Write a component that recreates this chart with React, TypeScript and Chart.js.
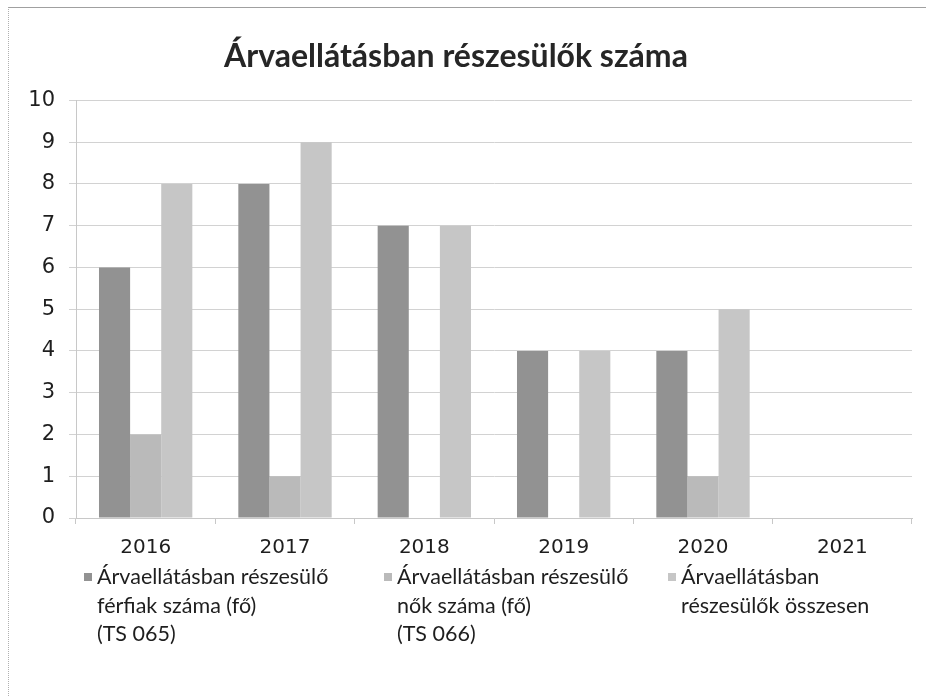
import React, { useEffect, useRef } from "react";
import { Chart, registerables } from "chart.js";

Chart.register(...registerables);

const categories = ["2016", "2017", "2018", "2019", "2020", "2021"];
const ferfiak = [6, 8, 7, 4, 4, null];
const nok = [2, 1, 0, 0, 1, null];
const osszesen = [8, 9, 7, 4, 5, null];
const seriesNames = [
  ["Árvaellátásban részesülő", "férfiak száma (fő)", "(TS 065)"],
  ["Árvaellátásban részesülő", "nők száma (fő)", "(TS 066)"],
  ["Árvaellátásban", "részesülők összesen"],
];
const colors = ["#929292", "#bababa", "#c6c6c6"];
const titleText = "Árvaellátásban részesülők száma";

export default function App() {
  const ref = useRef<HTMLCanvasElement | null>(null);
  useEffect(() => {
    if (!ref.current) return;
    const chart = new Chart(ref.current, {
      type: "bar",
      data: {
        labels: categories,
        datasets: [ferfiak, nok, osszesen].map((d, i) => ({
          label: seriesNames[i].join(" "),
          data: d,
          backgroundColor: colors[i],
          borderWidth: 0,
          barPercentage: 1,
          categoryPercentage: 0.67,
        })),
      },
      options: {
        animation: false,
        responsive: false,
        layout: { padding: { left: 0, right: 14, top: 23, bottom: 124 } },
        plugins: {
          legend: { display: false },
          tooltip: { enabled: false },
          title: {
            display: true,
            text: titleText,
            color: "#262626",
            font: { family: "Lato", size: 32, weight: "bold" },
            padding: { top: 14, bottom: 25 },
          },
        },
        scales: {
          x: {
            grid: {
              display: true,
              drawOnChartArea: false,
              tickLength: 6,
              color: "#c8c8c8",
              offset: true,
            },
            border: { color: "#c8c8c8" },
            ticks: {
              color: "#1e1e1e",
              font: { family: "DejaVu Sans", size: 20 },
              padding: 12,
            },
          },
          y: {
            min: 0,
            max: 10,
            ticks: {
              stepSize: 1,
              color: "#1e1e1e",
              font: { family: "DejaVu Sans", size: 21 },
              padding: 14,
            },
            grid: { color: "#d2d2d2", tickLength: 7 },
            border: { color: "#c8c8c8" },
            afterFit: (s: any) => {
              s.width = 76;
            },
          },
        },
      },
    });
    return () => chart.destroy();
  }, []);

  const legendX = [84, 384, 668];
  return (
    <div
      style={{
        position: "fixed",
        left: 0,
        top: 0,
        width: 926,
        height: 696,
        background: "#ffffff",
        overflow: "hidden",
      }}
    >
      <div
        style={{
          position: "absolute",
          left: 8,
          top: 7,
          width: 918,
          height: 689,
          borderTop: "1px solid #a0a0a0",
          borderLeft: "1px dotted #b0b0b0",
          boxSizing: "border-box",
        }}
      />
      <canvas ref={ref} width={926} height={696} style={{ position: "absolute", left: 0, top: 0 }} />
      {seriesNames.map((lines, i) => (
        <div
          key={i}
          style={{
            position: "absolute",
            left: legendX[i],
            top: 562,
            display: "flex",
            alignItems: "flex-start",
            fontFamily: "Lato",
            fontSize: 21.5,
            lineHeight: "28.5px",
            color: "#1e1e1e",
          }}
        >
          <div
            style={{
              width: 8,
              height: 8,
              background: colors[i],
              marginTop: 11,
              marginRight: 5,
              flex: "none",
            }}
          />
          <div>
            {lines.map((l, j) => (
              <div key={j} style={{ whiteSpace: "nowrap" }}>
                {l}
              </div>
            ))}
          </div>
        </div>
      ))}
    </div>
  );
}
